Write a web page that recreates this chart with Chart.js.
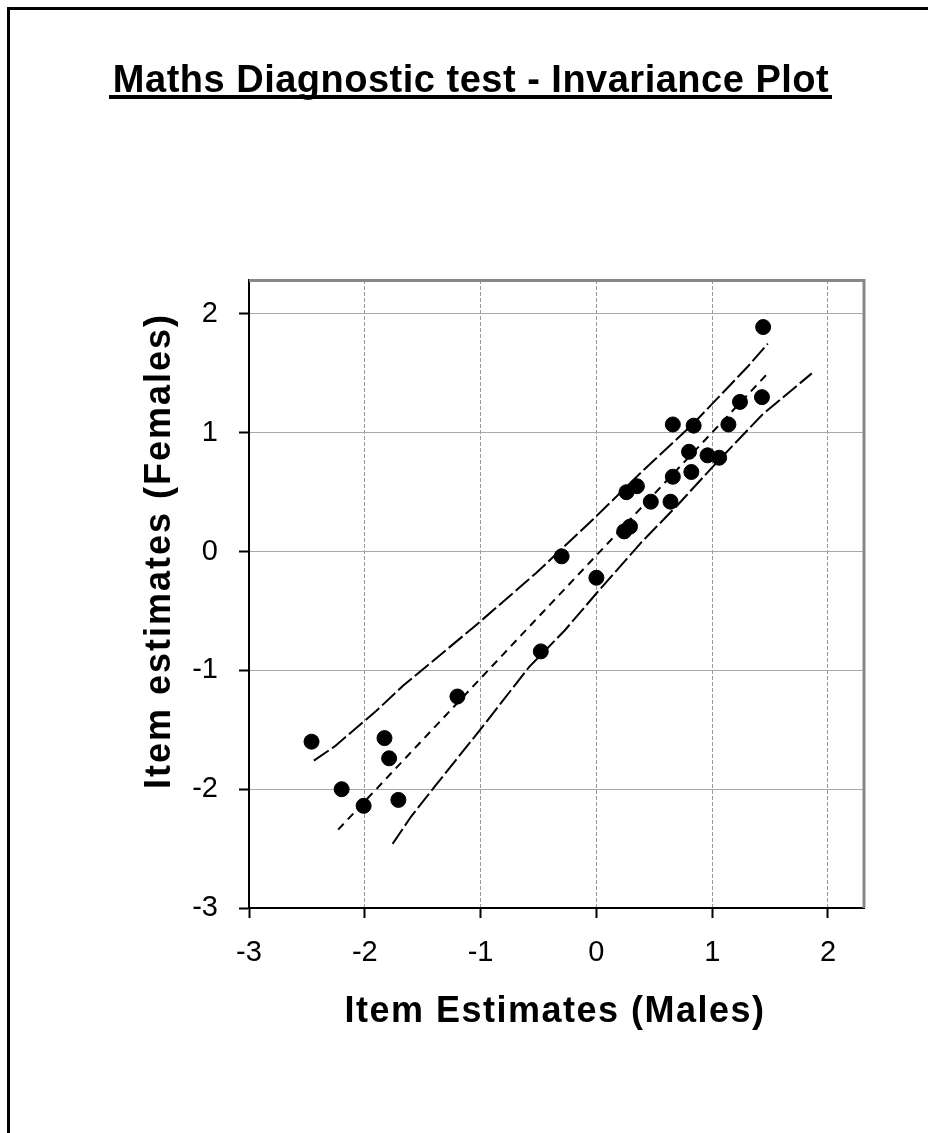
<!DOCTYPE html>
<html><head><meta charset="utf-8">
<script src="https://cdn.jsdelivr.net/npm/chart.js@4.4.1/dist/chart.umd.min.js"></script>
<style>html,body{margin:0;padding:0;background:#fff}#wrap{width:928px;height:1133px}</style>
</head><body><div id="wrap"><canvas id="c" width="928" height="1133"></canvas></div>
<script>
const chartTitle = 'Maths Diagnostic test - Invariance Plot';
const xAxisTitle = 'Item Estimates (Males)';
const yAxisTitle = 'Item estimates (Females)';
const xTicks = [-3, -2, -1, 0, 1, 2];
const yTicks = [-3, -2, -1, 0, 1, 2];

// item estimates (points)
const maleEstimates   = [1.44, 1.43, 1.24, 1.14, 0.84, 0.66, 0.80, 0.96, 1.06, 0.82, 0.66, 0.47, 0.64, 0.35, 0.26, 0.29, 0.24, 0.00, -0.30, -0.48, -1.20, -1.83, -1.79, -1.71, -2.01, -2.20, -2.46];
const femaleEstimates = [1.89, 1.30, 1.26, 1.07, 1.06, 1.07, 0.84, 0.81, 0.79, 0.67, 0.63, 0.42, 0.42, 0.55, 0.50, 0.21, 0.17, -0.22, -0.04, -0.84, -1.22, -1.57, -1.74, -2.09, -2.14, -2.00, -1.60];

// identity / control lines
const centerX = [-2.23, 1.48];
const centerY = [-2.34, 1.50];
const upperX = [-2.44, -2.26, -1.90, -1.67, -1.04, -0.52, -0.03, 0.39, 0.84, 1.31, 1.48];
const upperY = [-1.76, -1.64, -1.34, -1.13, -0.62, -0.18, 0.27, 0.67, 1.08, 1.56, 1.75];
const lowerX = [-1.76, -1.60, -1.39, -1.02, -0.58, -0.27, 0.01, 0.39, 0.69, 1.02, 1.43, 1.86];
const lowerY = [-2.46, -2.23, -1.97, -1.52, -0.97, -0.66, -0.34, 0.08, 0.38, 0.73, 1.15, 1.50];

const pts = (xs, ys) => xs.map((x, i) => ({x: x, y: ys[i]}));
const FONT = '"Liberation Sans", Arial, sans-serif';

const decor = {
  id: 'decor',
  beforeDraw(chart) {
    const ctx = chart.ctx;
    ctx.save();
    ctx.fillStyle = '#fff';
    ctx.fillRect(0, 0, chart.width, chart.height);
    ctx.fillStyle = '#000';
    ctx.fillRect(7, 7, 3, chart.height - 7);
    ctx.fillRect(7, 7, chart.width - 7, 3);
    ctx.restore();
  },
  beforeDatasetsDraw(chart) {
    const ctx = chart.ctx, a = chart.chartArea;
    ctx.save();
    ctx.strokeStyle = '#888';
    ctx.lineWidth = 3;
    ctx.beginPath();
    ctx.moveTo(a.left, a.top + 0.5);
    ctx.lineTo(a.right, a.top + 0.5);
    ctx.lineTo(a.right, a.bottom);
    ctx.stroke();
    ctx.restore();
  },
  afterDraw(chart) {
    const ctx = chart.ctx;
    ctx.save();
    ctx.fillStyle = '#000';
    // main title
    ctx.font = 'bold 38px ' + FONT;
    ctx.letterSpacing = '0.5px';
    ctx.textAlign = 'center';
    ctx.textBaseline = 'alphabetic';
    ctx.fillText(chartTitle, 471, 92);
    ctx.fillRect(109, 95, 723, 4);
    // x axis title
    ctx.font = 'bold 36px ' + FONT;
    ctx.letterSpacing = '1.5px';
    ctx.fillText(xAxisTitle, 555, 1022);
    // y axis title
    ctx.translate(170, 551);
    ctx.rotate(-Math.PI / 2);
    ctx.letterSpacing = '2px';
    ctx.fillText(yAxisTitle, 0, 0);
    ctx.restore();
  }
};

new Chart(document.getElementById('c'), {
  type: 'scatter',
  data: {
    datasets: [
      {
        label: 'Items',
        data: pts(maleEstimates, femaleEstimates),
        backgroundColor: '#000',
        borderColor: '#000',
        pointRadius: 7.5,
        pointHoverRadius: 7.5,
        showLine: false,
        order: 0
      },
      {
        label: 'Identity',
        data: pts(centerX, centerY),
        showLine: true,
        borderColor: '#000',
        borderWidth: 2,
        borderDash: [8, 6],
        pointRadius: 0,
        fill: false,
        order: 1
      },
      {
        label: 'Upper',
        data: pts(upperX, upperY),
        showLine: true,
        borderColor: '#000',
        borderWidth: 2,
        borderDash: [18, 4],
        pointRadius: 0,
        fill: false,
        order: 1
      },
      {
        label: 'Lower',
        data: pts(lowerX, lowerY),
        showLine: true,
        borderColor: '#000',
        borderWidth: 2,
        borderDash: [18, 4],
        pointRadius: 0,
        fill: false,
        order: 1
      }
    ]
  },
  options: {
    responsive: false,
    animation: false,
    devicePixelRatio: 1,
    layout: {padding: {top: 280, right: 64, left: 0, bottom: 0}},
    plugins: {legend: {display: false}, tooltip: {enabled: false}, title: {display: false}},
    scales: {
      x: {
        type: 'linear',
        min: -3,
        max: 2.311,
        afterBuildTicks: s => { s.ticks = xTicks.map(v => ({value: v})); },
        afterFit: s => { s.height = 225; },
        ticks: {color: '#000', font: {family: FONT, size: 29}, padding: 18, maxRotation: 0},
        grid: {color: '#999', lineWidth: 1, tickColor: '#000', tickWidth: 2, tickLength: 10},
        border: {color: '#000', width: 2, dash: [4, 2]}
      },
      y: {
        type: 'linear',
        min: -3,
        max: 2.286,
        afterBuildTicks: s => { s.ticks = yTicks.map(v => ({value: v})); },
        afterFit: s => { s.width = 249; },
        ticks: {color: '#000', font: {family: FONT, size: 29}, padding: 21},
        grid: {color: '#a8a8a8', lineWidth: 1, tickColor: '#000', tickWidth: 2, tickLength: 10},
        border: {color: '#000', width: 2}
      }
    }
  },
  plugins: [decor]
});
</script>
</body></html>
